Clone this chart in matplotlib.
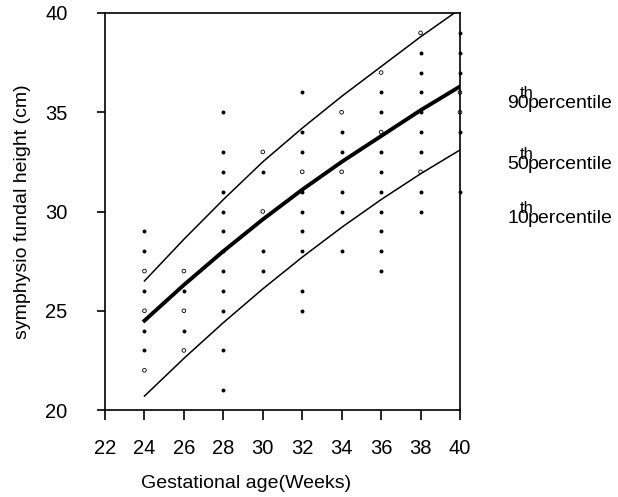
import numpy as np
import matplotlib
matplotlib.use("Agg")
import matplotlib.pyplot as plt

plt.rcParams['font.family'] = ['Liberation Sans', 'DejaVu Sans']

# observed fundal heights (cm) per gestational week; open = hollow marker
obs_weeks = [24, 24, 24, 24, 24, 24, 24, 24,
             26, 26, 26, 26, 26,
             28, 28, 28, 28, 28, 28, 28, 28, 28, 28, 28, 28,
             30, 30, 30, 30, 30,
             32, 32, 32, 32, 32, 32, 32, 32, 32, 32,
             34, 34, 34, 34, 34, 34, 34,
             36, 36, 36, 36, 36, 36, 36, 36, 36, 36, 36,
             38, 38, 38, 38, 38, 38, 38, 38, 38, 38,
             40, 40, 40, 40, 40, 40, 40]
obs_cm = [29, 28, 27, 26, 25, 24, 23, 22,
          27, 26, 25, 24, 23,
          35, 33, 32, 31, 30, 29, 28, 27, 26, 25, 23, 21,
          33, 32, 30, 28, 27,
          36, 34, 33, 32, 31, 30, 29, 28, 26, 25,
          35, 34, 33, 32, 31, 30, 28,
          37, 36, 35, 34, 33, 32, 31, 30, 29, 28, 27,
          39, 38, 37, 36, 35, 34, 33, 32, 31, 30,
          39, 38, 37, 36, 35, 34, 31]
obs_open = [0, 0, 1, 0, 1, 0, 0, 1,
            1, 0, 1, 0, 1,
            0, 0, 0, 0, 0, 0, 0, 0, 0, 0, 0, 0,
            1, 0, 1, 0, 0,
            0, 0, 0, 1, 0, 0, 0, 0, 0, 0,
            1, 0, 0, 1, 0, 0, 0,
            1, 0, 0, 1, 0, 0, 0, 0, 0, 0, 0,
            1, 0, 0, 0, 0, 0, 0, 1, 0, 0,
            0, 0, 0, 1, 1, 0, 0]

# percentile curves
curve_weeks = [24, 26, 28, 30, 32, 34, 36, 38, 40]
p90 = [26.5, 28.6, 30.6, 32.5, 34.2, 35.8, 37.3, 38.8, 40.2]
p50 = [24.5, 26.3, 28.0, 29.6, 31.1, 32.5, 33.8, 35.1, 36.3]
p10 = [20.7, 22.6, 24.4, 26.1, 27.7, 29.2, 30.6, 31.9, 33.1]

labels = ["90", "50", "10"]
label_y = [35.2, 32.15, 29.4]

fig = plt.figure(figsize=(6.18, 4.97), dpi=100)
ax = fig.add_axes([105 / 618, 87 / 497, 355 / 618, 397 / 497])

w = np.array(obs_weeks)
c = np.array(obs_cm)
o = np.array(obs_open, dtype=bool)
ax.scatter(w[~o], c[~o], s=8, color='black', lw=0, clip_on=False, zorder=3)
ax.scatter(w[o], c[o], s=7, facecolor='none', edgecolor='black', lw=0.6,
           clip_on=False, zorder=3)

ax.plot(curve_weeks, p90, color='black', lw=1.1)
ax.plot(curve_weeks, p50, color='black', lw=2.8)
ax.plot(curve_weeks, p10, color='black', lw=1.1)

ax.set_xlim(22, 40)
ax.set_ylim(20, 40)
ax.set_xticks(range(22, 41, 2))
ax.set_yticks(range(20, 41, 5))
ax.tick_params(axis='x', direction='out', length=7, width=1.2, pad=14, labelsize=14.5)
ax.tick_params(axis='y', direction='out', length=6, width=1.2, pad=21, labelsize=14.5)
for s in ax.spines.values():
    s.set_linewidth(1.2)

ax.set_xlabel("Gestational age(Weeks)", fontsize=14)
ax.xaxis.set_label_coords(0.397, -0.163)
ax.set_ylabel("symphysio fundal height (cm)", fontsize=14, labelpad=10)

# percentile labels at the right of the plot
for lab, yy in zip(labels, label_y):
    ax.text(42.4, yy, lab, fontsize=14, va='baseline', ha='left', clip_on=False)
    ax.text(43.05, yy + 0.5, "th", fontsize=12, va='baseline', ha='left', clip_on=False)
    ax.text(43.45, yy, "percentile", fontsize=14, va='baseline', ha='left', clip_on=False)

fig.savefig("out.png", dpi=100)
